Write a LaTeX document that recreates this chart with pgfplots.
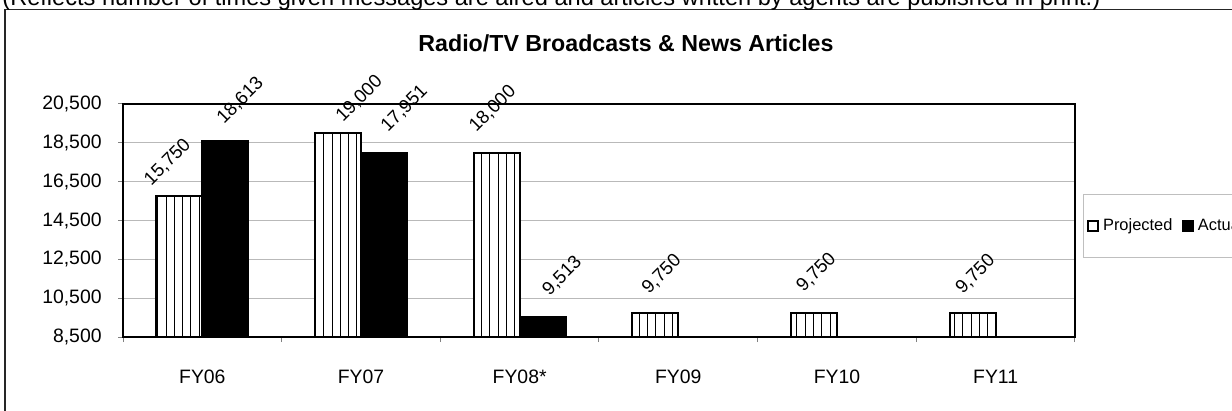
\documentclass[border=0pt]{standalone}
\usepackage{fontspec}
\setmainfont{Liberation Sans}
\usepackage{pgfplots}
\usepackage{pgfplotstable}
\pgfplotsset{compat=1.18}
\usetikzlibrary{patterns.meta}

\pgfkeys{/pgf/number format/.cd, 1000 sep={,}, assume math mode=true}

% dx, dy: label offsets (pt) from the category centre / bar top
\pgfplotstableread{
x y dx dy
0 15750 -25.85 4.75
1 19000 -9.35 4.9
2 18000 -22 9.6
3 9750 -15 8.85
4 9750 -17 9.7
5 9750 -16.75 8.85
}\proj

\pgfplotstableread{
x y dx dy
0 18613 10.5 7.8
1 17951 13.15 10.1
2 9513 14.6 10.3
}\act

\pgfplotsset{
  barlabels/.style={
    point meta=y,
    nodes near coords={\pgfmathprintnumber{\pgfplotspointmeta}},
    visualization depends on={\thisrow{dx} \as \dx},
    visualization depends on={\thisrow{dy} \as \dy},
    every node near coord/.append style={xshift=\dx pt, yshift=\dy pt, rotate=45,
      anchor=base west, inner sep=0pt, black, font=\fontsize{9.3}{11}\selectfont},
  },
}

\begin{document}
\begin{tikzpicture}
\useasboundingbox (0pt,0pt) rectangle (616pt,-205.5pt);
\begin{axis}[
  at={(61.5pt,-168.5pt)}, anchor=south west,
  width=476pt, height=116.5pt, scale only axis,
  xmin=-0.5, xmax=5.5, ymin=8500, ymax=20500,
  ytick={8500,10500,...,20500},
  scaled y ticks=false,
  xtick={0,...,5},
  xticklabels={FY06,FY07,FY08*,FY09,FY10,FY11},
  minor xtick={-0.5,0.5,...,5.5},
  major x tick style={draw=none},
  minor x tick style={gray, line width=0.5pt},
  y tick style={gray, line width=0.5pt},
  tick align=outside, xtick pos=bottom, ytick pos=left,
  major tick length=2.5pt, minor tick length=2.5pt,
  ymajorgrids, grid style={gray!55, line width=0.5pt},
  axis line style={black, line width=1pt},
  tick label style={font=\fontsize{9.7}{11}\selectfont},
  yticklabel style={anchor=east, inner sep=0pt, xshift=-8pt},
  xticklabel style={anchor=base, inner sep=0pt, yshift=-20.5pt},
  clip mode=individual,
  legend style={at={(1.0084,0.476)}, anchor=west, draw=gray!50, line width=0.5pt,
    legend columns=2, font=\fontsize{8.2}{9.5}\selectfont,
    inner ysep=10pt, inner xsep=2pt,
    /tikz/every even column/.append style={column sep=3pt}},
]
% white ground under the striped bars
\addplot[ybar, bar width=0.29, bar shift=-0.145, draw=none, fill=white, forget plot]
  table[x=x,y=y] {\proj};
\addplot[ybar, bar width=0.29, bar shift=-0.145, draw=black, line width=1pt,
  pattern={Lines[angle=90,distance=4.15pt,line width=0.5pt]}, barlabels,
  legend image code/.code={\draw[black,line width=1pt,fill=white] (0pt,-2.4pt) rectangle (4.8pt,2.4pt);}]
  table[x=x,y=y] {\proj};
\addlegendentry{Projected}
\addplot[ybar, bar width=0.29, bar shift=0.145, draw=black, line width=1pt, fill=black, barlabels,
  legend image code/.code={\draw[black,line width=1pt,fill=black] (0pt,-2.4pt) rectangle (4.8pt,2.4pt);}]
  table[x=x,y=y] {\act};
\addlegendentry{Actual}
\end{axis}
\draw[line width=0.8pt, black!85] (2.5pt,-230pt) -- (2.5pt,-4.75pt) -- (650pt,-4.75pt);
\node[anchor=base west, inner sep=0pt, font=\fontsize{11.8}{13}\selectfont] at (1pt,-3pt)
  {(Reflects number of times given messages are aired and articles written by agents are published in print.)};
\node[anchor=base, inner sep=0pt, font=\bfseries\fontsize{11.6}{13}\selectfont] at (313pt,-26pt)
  {Radio/TV Broadcasts \& News Articles};
\end{tikzpicture}
\end{document}
